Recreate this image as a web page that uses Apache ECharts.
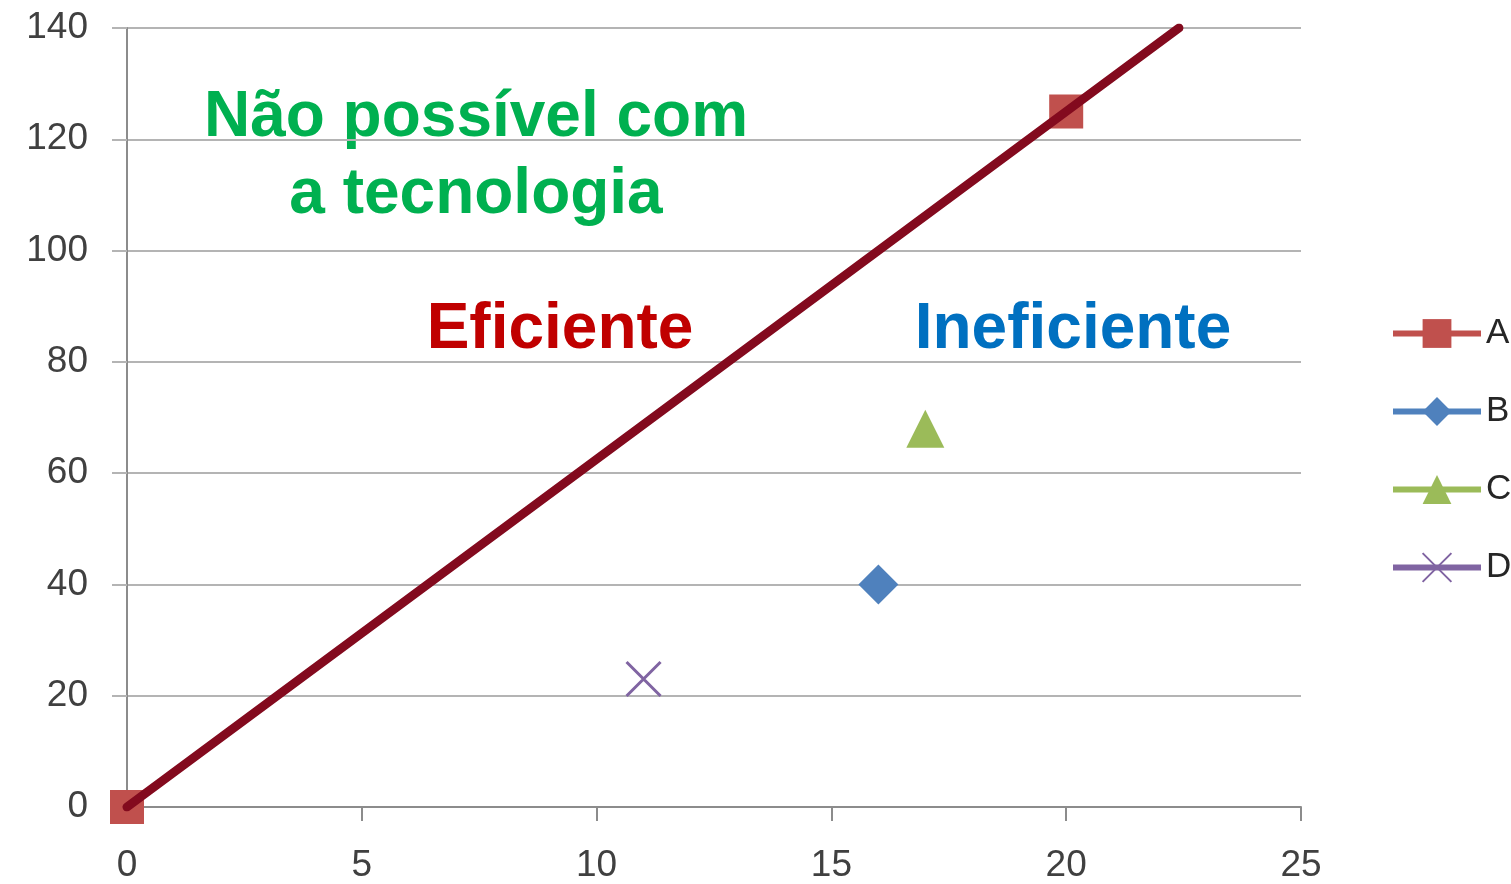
<!DOCTYPE html>
<html>
<head>
<meta charset="utf-8">
<script src="https://cdn.jsdelivr.net/npm/echarts@6/dist/echarts.min.js"></script>
<style>html,body{margin:0;padding:0;background:#fff;}#c{width:1511px;height:884px;}</style>
</head>
<body>
<div id="c"></div>
<script>
const seriesNames = ['A', 'B', 'C', 'D'];
const pointsA = [[0, 0], [20, 125]];
const pointsB = [[16, 40]];
const pointsC = [[17, 68]];
const pointsD = [[11, 23]];
const frontier = [[0, 0], [22.4, 140]];
const xTicks = [0, 5, 10, 15, 20, 25];
const yTicks = [0, 20, 40, 60, 80, 100, 120, 140];
const annotations = ['Não possível com', 'a tecnologia', 'Eficiente', 'Ineficiente'];

const chart = echarts.init(document.getElementById('c'));
const font = '"Liberation Sans", Arial, sans-serif';
const axisGray = '#8c8c8c';
const gridGray = '#b4b4b4';
chart.setOption({
  animation: false,
  backgroundColor: '#fff',
  grid: { left: 127, right: 210, top: 28, bottom: 75 },
  xAxis: {
    type: 'value', min: xTicks[0], max: xTicks[xTicks.length - 1], interval: 5,
    axisLine: { show: true, onZero: false, lineStyle: { color: axisGray, width: 2 } },
    axisTick: { show: true, length: 14, lineStyle: { color: axisGray, width: 2 } },
    splitLine: { show: false },
    axisLabel: { margin: 40, fontSize: 37, color: '#404040', fontFamily: font }
  },
  yAxis: {
    type: 'value', min: yTicks[0], max: yTicks[yTicks.length - 1], interval: 20,
    axisLine: { show: true, lineStyle: { color: axisGray, width: 2 } },
    axisTick: { show: true, length: 15, lineStyle: { color: gridGray, width: 2 } },
    splitLine: { show: true, lineStyle: { color: gridGray, width: 2 } },
    axisLabel: { margin: 39, fontSize: 37, color: '#404040', fontFamily: font }
  },
  legend: {
    orient: 'vertical', left: 1385, top: 311, itemWidth: 88, itemHeight: 36, itemGap: 43,
    data: seriesNames,
    lineStyle: { width: 6 },
    textStyle: { fontSize: 35, color: '#262626', fontFamily: font }
  },
  series: [
    { name: 'A', type: 'line', data: pointsA, symbol: 'rect', symbolSize: 34,
      lineStyle: { color: '#C0504D', width: 4 }, itemStyle: { color: '#C0504D' }, z: 2 },
    { name: 'B', type: 'line', data: pointsB, symbol: 'diamond', symbolSize: 40,
      lineStyle: { color: '#4F81BD', width: 4 }, itemStyle: { color: '#4F81BD' }, z: 2 },
    { name: 'C', type: 'line', data: pointsC, symbol: 'triangle', symbolSize: [38, 38],
      lineStyle: { color: '#9BBB59', width: 4 }, itemStyle: { color: '#9BBB59' }, z: 2 },
    { name: 'D', type: 'line', data: pointsD, symbol: 'path://M0,0L10,10M10,0L0,10', symbolSize: 34,
      lineStyle: { color: '#8064A2', width: 4 },
      itemStyle: { color: '#8064A2', borderColor: '#8064A2', borderWidth: 3 }, z: 2 },
    { name: 'Fronteira', type: 'line', data: frontier, symbol: 'none',
      lineStyle: { color: '#830A1E', width: 9, cap: 'round' }, z: 5, silent: true }
  ],
  graphic: [
    { type: 'text', x: 476, y: 118, style: { text: annotations[0], fill: '#00B050', font: 'bold 64px ' + font, align: 'center', verticalAlign: 'middle' } },
    { type: 'text', x: 476, y: 195, style: { text: annotations[1], fill: '#00B050', font: 'bold 64px ' + font, align: 'center', verticalAlign: 'middle' } },
    { type: 'text', x: 560, y: 330, style: { text: annotations[2], fill: '#C00000', font: 'bold 64px ' + font, align: 'center', verticalAlign: 'middle' } },
    { type: 'text', x: 1073, y: 330, style: { text: annotations[3], fill: '#0070C0', font: 'bold 64px ' + font, align: 'center', verticalAlign: 'middle' } }
  ]
});
</script>
</body>
</html>
